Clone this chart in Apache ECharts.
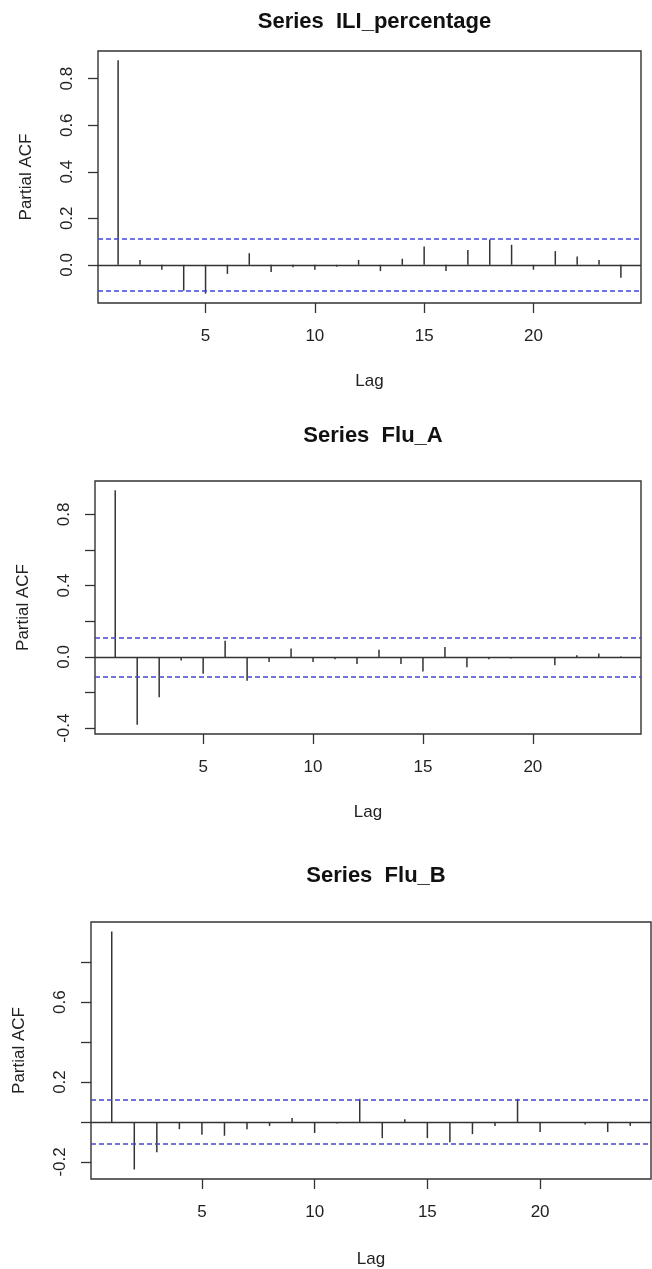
<!DOCTYPE html>
<html>
<head>
<meta charset="utf-8">
<script src="https://cdn.jsdelivr.net/npm/echarts@6/dist/echarts.min.js"></script>
<style>
html,body{margin:0;padding:0;background:#fff;}
#chart{width:652px;height:1269px;}
</style>
</head>
<body>
<div id="chart"></div>
<script>
// ---- data ----
const lags = [1,2,3,4,5,6,7,8,9,10,11,12,13,14,15,16,17,18,19,20,21,22,23,24];
const iliPacf  = [0.879,0.021,-0.021,-0.111,-0.124,-0.039,0.050,-0.031,-0.010,-0.021,-0.008,0.021,-0.027,0.026,0.079,-0.027,0.064,0.109,0.086,-0.021,0.059,0.036,0.021,-0.056];
const fluAPacf = [0.935,-0.380,-0.227,-0.020,-0.095,0.091,-0.134,-0.028,0.048,-0.028,-0.013,-0.039,0.041,-0.039,-0.082,0.056,-0.058,-0.013,-0.009,-0.002,-0.047,0.009,0.019,0.002];
const fluBPacf = [0.954,-0.238,-0.152,-0.036,-0.064,-0.069,-0.036,-0.020,0.020,-0.055,-0.008,0.116,-0.081,0.013,-0.081,-0.102,-0.061,-0.020,0.116,-0.050,-0.003,-0.013,-0.050,-0.020];
const confLimits = [0.11, 0.11, 0.11];
const titles = ['Series  ILI_percentage', 'Series  Flu_A', 'Series  Flu_B'];
const xTickValues = [5, 10, 15, 20];
const yTickValues = [
  [0.0, 0.2, 0.4, 0.6, 0.8],
  [-0.4, -0.2, 0.0, 0.2, 0.4, 0.6, 0.8],
  [-0.2, 0.0, 0.2, 0.4, 0.6, 0.8]
];
const yLabelValues = [
  [0.0, 0.2, 0.4, 0.6, 0.8],
  [-0.4, 0.0, 0.4, 0.8],
  [-0.2, 0.2, 0.6]
];
const seriesValues = [iliPacf, fluAPacf, fluBPacf];

// ---- layout ----
const grids = [
  {left: 98, top: 51,  width: 543, height: 252},
  {left: 95, top: 481, width: 546, height: 253},
  {left: 91, top: 922, width: 560, height: 258}
];
const titleTops = [6, 420, 860];
const lagGaps = [70, 70, 72];

const FONT = 'Liberation Sans, Arial, sans-serif';
const TXT = '#222';
const LINE = '#333';

function yRange(vals, clim) {
  // R default: data range including confidence limits, expanded by 4%
  const lo = Math.min(Math.min.apply(null, vals), -clim);
  const hi = Math.max(Math.max.apply(null, vals), clim);
  const ext = (hi - lo) * 0.04;
  return [lo - ext, hi + ext];
}
const xLo = lags[0] - (lags[lags.length-1] - lags[0]) * 0.04;
const xHi = lags[lags.length-1] + (lags[lags.length-1] - lags[0]) * 0.04;

const option = {
  animation: false,
  backgroundColor: '#fff',
  textStyle: {fontFamily: FONT},
  title: titles.map((t, i) => ({
    text: t,
    left: grids[i].left + grids[i].width / 2,
    top: titleTops[i],
    textAlign: 'center',
    textStyle: {fontFamily: FONT, fontSize: 22, fontWeight: 'bold', color: '#111'}
  })),
  grid: grids.map(g => Object.assign({show: true, borderColor: LINE, borderWidth: 1.4, backgroundColor: 'transparent', containLabel: false}, g)),
  xAxis: grids.map((g, i) => ({
    type: 'value', gridIndex: i, min: xLo, max: xHi, position: 'bottom',
    name: 'Lag', nameLocation: 'middle', nameGap: lagGaps[i],
    nameTextStyle: {fontFamily: FONT, fontSize: 17, color: TXT},
    axisLine: {show: false, onZero: false},
    splitLine: {show: false},
    axisTick: {show: true, customValues: xTickValues, length: 10, lineStyle: {color: LINE, width: 1.3}},
    axisLabel: {show: true, customValues: xTickValues, margin: 25, fontFamily: FONT, fontSize: 17, color: TXT}
  })),
  yAxis: grids.map((g, i) => {
    const r = yRange(seriesValues[i], confLimits[i]);
    return {
      type: 'value', gridIndex: i, min: r[0], max: r[1], position: 'left',
      name: 'Partial ACF', nameLocation: 'middle', nameGap: 63, nameRotate: 90,
      nameTextStyle: {fontFamily: FONT, fontSize: 17, color: TXT},
      axisLine: {show: false, onZero: false},
      splitLine: {show: false},
      axisTick: {show: true, customValues: yTickValues[i], length: 10, lineStyle: {color: LINE, width: 1.3}},
      axisLabel: {show: true, customValues: yLabelValues[i], rotate: 90, margin: 22,
        fontFamily: FONT, fontSize: 17, color: TXT,
        formatter: v => Number(v).toFixed(1)}
    };
  }),
  series: seriesValues.map((vals, i) => ({
    type: 'bar', xAxisIndex: i, yAxisIndex: i, silent: true,
    barWidth: 1.5,
    itemStyle: {color: LINE},
    data: lags.map((l, k) => [l, vals[k]]),
    markLine: {
      silent: true, symbol: 'none', animation: false,
      label: {show: false},
      data: [
        {yAxis: 0, lineStyle: {color: LINE, width: 1.4, type: 'solid'}},
        {yAxis: confLimits[i], lineStyle: {color: '#4646d2', width: 1.5, type: [5, 3]}},
        {yAxis: -confLimits[i], lineStyle: {color: '#4646d2', width: 1.5, type: [5, 3]}}
      ]
    }
  }))
};

const chart = echarts.init(document.getElementById('chart'), null, {renderer: 'canvas'});
chart.setOption(option);
</script>
</body>
</html>
